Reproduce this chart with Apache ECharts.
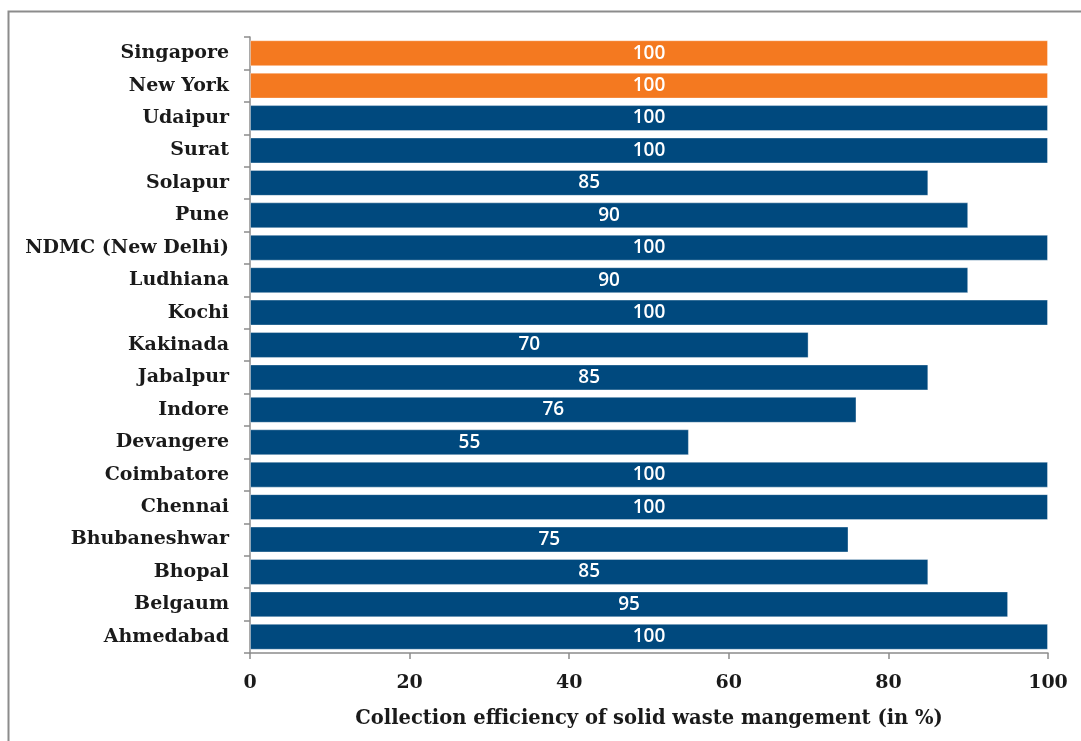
<!DOCTYPE html>
<html>
<head>
<meta charset="utf-8">
<script src="https://cdn.jsdelivr.net/npm/echarts@6/dist/echarts.min.js"></script>
<style>
  html, body { margin: 0; padding: 0; background: #fff; }
  #chart { width: 1081px; height: 741px; }
</style>
</head>
<body>
<div id="chart"></div>
<script>
// bottom to top, as the category axis draws them
var cities = ['Ahmedabad', 'Belgaum', 'Bhopal', 'Bhubaneshwar', 'Chennai', 'Coimbatore',
  'Devangere', 'Indore', 'Jabalpur', 'Kakinada', 'Kochi', 'Ludhiana', 'NDMC (New Delhi)',
  'Pune', 'Solapur', 'Surat', 'Udaipur', 'New York', 'Singapore']
var efficiency = [100, 95, 85, 75, 100, 100, 55, 76, 85, 70, 100, 90, 100, 90, 85, 100, 100, 100, 100]
var foreignCities = ['New York', 'Singapore']
var xTicks = [0, 20, 40, 60, 80, 100]

var chart = echarts.init(document.getElementById('chart'))

var labelFont = '"DejaVu Serif", "Liberation Serif", serif'

chart.setOption({
  animation: false,
  // outer frame, runs off the right and bottom edge like the original
  graphic: [{
    type: 'rect',
    shape: { x: 8.5, y: 11.5, width: 1100, height: 800 },
    style: { fill: 'none', stroke: '#8c8c8c', lineWidth: 2 },
    silent: true
  }],
  grid: {
    left: 250,
    right: 33,
    top: 37,
    bottom: 88
  },
  xAxis: {
    type: 'value',
    min: xTicks[0],
    max: xTicks[xTicks.length - 1],
    interval: 20,
    splitLine: { show: false },
    axisLine: { show: true, lineStyle: { color: '#8c8c8c', width: 1.5 } },
    axisTick: { show: true, length: 6, lineStyle: { color: '#8c8c8c', width: 1.5 } },
    axisLabel: {
      color: '#1a1a1a',
      fontFamily: labelFont,
      fontWeight: 'bold',
      fontSize: 19,
      margin: 21
    },
    name: 'Collection efficiency of solid waste mangement (in %)',
    nameLocation: 'middle',
    nameGap: 56,
    nameTextStyle: {
      color: '#1a1a1a',
      fontFamily: labelFont,
      fontWeight: 'bold',
      fontSize: 19.5
    }
  },
  yAxis: {
    type: 'category',
    data: cities,
    axisLine: { show: true, lineStyle: { color: '#8c8c8c', width: 1.5 } },
    axisTick: { show: true, length: 6, lineStyle: { color: '#8c8c8c', width: 1.5 } },
    axisLabel: {
      color: '#1a1a1a',
      fontFamily: labelFont,
      fontWeight: 'bold',
      fontSize: 19,
      margin: 21
    }
  },
  series: [{
    type: 'bar',
    data: efficiency.map(function(v, i) {
      var foreign = foreignCities.indexOf(cities[i]) >= 0
      return {
        value: v,
        itemStyle: { color: foreign ? '#f47920' : '#00497e' }
      }
    }),
    barCategoryGap: '20%',
    itemStyle: {
      borderColor: 'rgba(255,255,255,0.35)',
      borderWidth: 1
    },
    label: {
      show: true,
      position: 'inside',
      color: '#ffffff',
      fontFamily: '"Open Sans", "Noto Sans", sans-serif',
      fontWeight: 600,
      fontSize: 19
    }
  }]
})
</script>
</body>
</html>
